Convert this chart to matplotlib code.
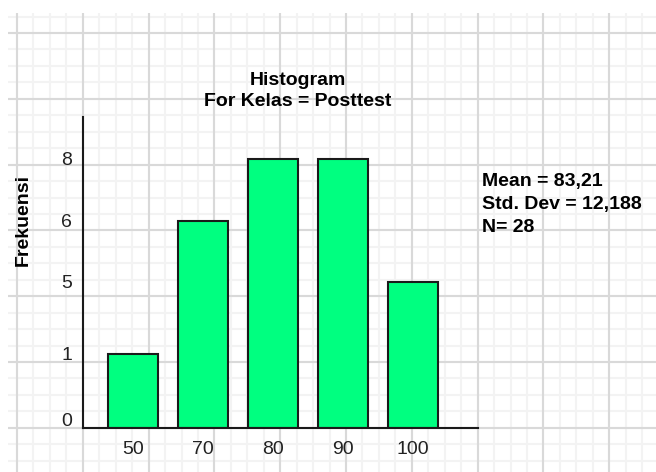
#!/usr/bin/env python3
"""Histogram of posttest scores drawn over a graph-paper background."""

import matplotlib

matplotlib.use("Agg")
import matplotlib.pyplot as plt
import numpy as np
from matplotlib.transforms import ScaledTranslation

score_labels = ["50", "70", "80", "90", "100"]
frequencies = [1, 6, 8, 8, 5]
freq_ticks = [0, 1, 5, 6, 8]
title_lines = ["Histogram", "For Kelas = Posttest"]
stats_lines = ["Mean = 83,21", "Std. Dev = 12,188", "N= 28"]

W, H, DPI = 656, 472, 100


def main(out_file="out.png"):
    plt.rcParams["font.family"] = ["Liberation Sans", "DejaVu Sans"]
    fig = plt.figure(figsize=(W / DPI, H / DPI), dpi=DPI)

    # graph paper, laid out in pixel units
    bg = fig.add_axes([8 / W, 0, (W - 8) / W, (H - 13) / H], zorder=0)
    bg.set_xlim(8, W)
    bg.set_ylim(H, 13)
    step = 65.8
    for xv in np.arange(17 - step, W, step / 4):
        bg.axvline(xv, color="#f3f3f3", linewidth=1.5)
    for yv in np.arange(33 - step, H, step / 4):
        bg.axhline(yv, color="#f3f3f3", linewidth=1.5)
    for xv in np.arange(17, W, step):
        bg.axvline(xv, color="#d9d9d9", linewidth=1.5)
    for yv in np.arange(33, H, step):
        bg.axhline(yv, color="#d9d9d9", linewidth=1.5)
    bg.axis("off")

    ax = fig.add_axes([83 / W, (H - 428) / H, (478 - 83) / W, (428 - 117) / H], zorder=1)
    ax.patch.set_alpha(0)

    # the printed frequency axis is not linear: its ticks are roughly evenly spaced
    levels = freq_ticks + [10]
    spots = [0.0, 1.1, 2.17, 3.08, 4.0, 5.0]
    ax.set_yscale(
        "function",
        functions=(lambda v: np.interp(v, levels, spots), lambda u: np.interp(u, spots, levels)),
    )

    x = np.arange(len(score_labels))
    ax.bar(x, frequencies, width=0.714, color="#00ff80", edgecolor="#1a1a1a", linewidth=1.5)
    ax.set_xlim(-0.714, 4.929)
    ax.set_ylim(0, 9.24)

    ax.set_xticks(x)
    ax.set_xticklabels(score_labels)
    ax.set_yticks(freq_ticks)
    ax.set_yticklabels([str(t) for t in freq_ticks])
    ax.tick_params(axis="x", length=0, labelsize=14, pad=9.5, labelcolor="#222222")
    ax.tick_params(axis="y", length=0, labelsize=14, pad=8, labelcolor="#222222")
    ax.minorticks_off()
    # the zero label sits a little above the axis line
    zero_lab = ax.get_yticklabels()[0]
    zero_lab.set_transform(zero_lab.get_transform() + ScaledTranslation(0, 8 / DPI, fig.dpi_scale_trans))

    for side in ("top", "right"):
        ax.spines[side].set_visible(False)
    for side in ("left", "bottom"):
        ax.spines[side].set_linewidth(1.5)
        ax.spines[side].set_color("#1a1a1a")

    ax.set_ylabel("Frekuensi", fontsize=14, fontweight="bold")
    ax.yaxis.set_label_coords(-0.129, 0.67)

    fig.text(298 / W, 1 - 91 / H, "\n".join(title_lines), ha="center", va="center",
             fontsize=14, fontweight="bold", linespacing=1.35)
    fig.text(482 / W, 1 - 173 / H, "\n".join(stats_lines), ha="left", va="top",
             fontsize=14, fontweight="bold", linespacing=1.45)

    fig.savefig(out_file, dpi=DPI)
    plt.close(fig)


if __name__ == "__main__":
    main()
